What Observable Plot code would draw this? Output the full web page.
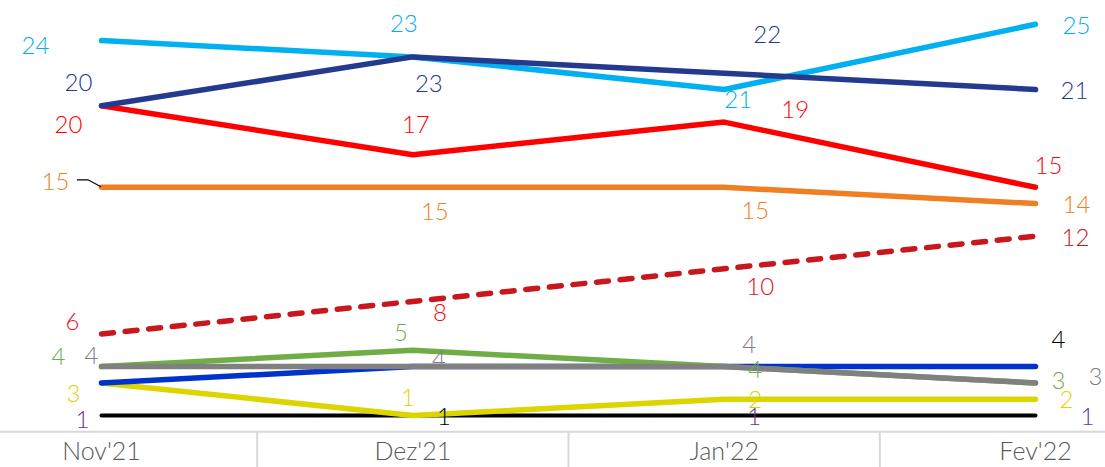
<!DOCTYPE html>
<html>
<head>
<meta charset="utf-8">
<script src="https://cdn.jsdelivr.net/npm/d3@7"></script>
<script src="https://cdn.jsdelivr.net/npm/@observablehq/plot@0.6"></script>
<style>
  html, body { margin: 0; padding: 0; background: #fff; }
  #chart svg { display: block; }
</style>
</head>
<body>
<div id="chart"></div>
<script>
// ---- Data ----
const months = ["Nov'21", "Dez'21", "Jan'22", "Fev'22"];
const cyanValues   = [24, 23, 21, 25];
const navyValues   = [20, 23, 22, 21];
const redValues    = [20, 17, 19, 15];
const orangeValues = [15, 15, 15, 14];
const dashedValues = [6, 8, 10, 12];
const greenValues  = [4, 5, 4, 3];
const grayValues   = [4, 4, 4, 3];
const blueValues   = [3, 4, 4, 4];
const yellowValues = [3, 1, 2, 2];
const blackValues  = [1, 1, 1, 1];

// ---- Styling / label placement (pixel offsets from each point) ----
const series = [
  {name: "black",  values: blackValues,  color: "#000000", width: 4,
   labelColors: ["#7030a0", "#000000", "#7030a0", "#7030a0"],
   offsets: [[-19, 5], [31, 2], [30, 2], [52, 2]]},
  {name: "yellow", values: yellowValues, color: "#dcd500", width: 5.5,
   labelColors: ["#dcd500", "#dcd500", "#dcd500", "#dcd500"],
   offsets: [[-28, 11], [-5, -17], [31, 1], [31, 1]]},
  {name: "blue",   values: blueValues,   color: "#0033cc", width: 5.5,
   labelColors: [null, null, null, "#000000"],
   offsets: [null, null, null, [23, -26]]},
  {name: "green",  values: greenValues,  color: "#70ad47", width: 5.5,
   labelColors: ["#70ad47", "#70ad47", "#70ad47", "#70ad47"],
   offsets: [[-43, -9], [-12, -17], [31, 4], [23, -2]]},
  {name: "gray",   values: grayValues,   color: "#808080", width: 5.5,
   labelColors: ["#808080", "#808080", "#808080", "#808080"],
   offsets: [[-10, -10], [26, -6], [25, -21], [60, -6]]},
  {name: "dashed", values: dashedValues, color: "#c9171e", width: 5.5, dash: "12,11.7",
   labelColors: ["#e3101a", "#e3101a", "#e3101a", "#c9171e"],
   offsets: [[-29, -12], [27, 12], [36, 19], [40, 2]]},
  {name: "orange", values: orangeValues, color: "#ee7f22", width: 5.5,
   labelColors: ["#ee7f22", "#ee7f22", "#ee7f22", "#ee7f22"],
   offsets: [[-46, -5], [22, 25], [31, 24], [41, 2]]},
  {name: "red",    values: redValues,    color: "#ff0000", width: 5.5,
   labelColors: ["#ff0000", "#ff0000", "#ff0000", "#ff0000"],
   offsets: [[-33, 20], [3, -29], [71, -12], [13, -21]]},
  {name: "cyan",   values: cyanValues,   color: "#00b0f0", width: 5.5,
   labelColors: ["#00b0f0", "#00b0f0", "#00b0f0", "#00b0f0"],
   offsets: [[-66, 6], [-9, -33], [14, 11], [41, 2]]},
  {name: "navy",   values: navyValues,   color: "#243a8f", width: 5.5,
   labelColors: ["#243a8f", "#243a8f", "#243a8f", "#243a8f"],
   offsets: [[-23, -22], [16, 27], [43, -38], [39, 2]]}
];

const W = 1105, H = 467;
const FONT = "Lato, 'Noto Sans', sans-serif";

const marks = [];
// baseline axis rule
marks.push(Plot.ruleY([0], {stroke: "#d9d9d9", strokeWidth: 2}));
// category separators
marks.push(Plot.axisX({
  anchor: "bottom", ticks: [0.5, 1.5, 2.5], tickSize: 36, tickFormat: () => "",
  stroke: "#d9d9d9", strokeWidth: 2, label: null
}));
// month labels
marks.push(Plot.axisX({
  anchor: "bottom", ticks: [0, 1, 2, 3], tickSize: 0, tickPadding: 10,
  tickFormat: i => months[i], fontSize: 25, fill: "#595959", fontFamily: FONT,
  fontWeight: 300, letterSpacing: "1.5px", label: null
}));

for (const s of series) {
  const rows = s.values.map((v, i) => ({i, v}));
  marks.push(Plot.line(rows, {
    x: "i", y: "v", stroke: s.color, strokeWidth: s.width,
    strokeLinecap: "round", strokeLinejoin: "round",
    strokeDasharray: s.dash
  }));
}
for (const s of series) {
  s.values.forEach((v, i) => {
    if (!s.offsets[i]) return;
    marks.push(Plot.text([{i, v}], {
      x: "i", y: "v", text: d => String(d.v),
      dx: s.offsets[i][0], dy: s.offsets[i][1],
      fill: s.labelColors[i], fontSize: 24, fontFamily: FONT, fontWeight: 300,
      letterSpacing: "1px",
      textAnchor: "middle", lineAnchor: "middle"
    }));
  });
}

const chart = Plot.plot({
  width: W, height: H,
  marginLeft: 0, marginRight: 0, marginTop: 0, marginBottom: H - 431.3,
  style: {fontFamily: FONT, background: "#fff", overflow: "visible"},
  x: {type: "linear", domain: [0, 3], range: [101, 1035], axis: null},
  y: {domain: [0, 26.46], axis: null},
  marks
});

// leader line for the first orange label
const xs = chart.scale("x"), ys = chart.scale("y");
const px = xs.apply(0), py = ys.apply(orangeValues[0]);
d3.select(chart).append("path")
  .attr("d", `M${px - 24},${py - 7}L${px - 13},${py - 7}L${px},${py}`)
  .attr("fill", "none").attr("stroke", "#000").attr("stroke-width", 1.2);

document.getElementById("chart").appendChild(chart);
</script>
</body>
</html>
